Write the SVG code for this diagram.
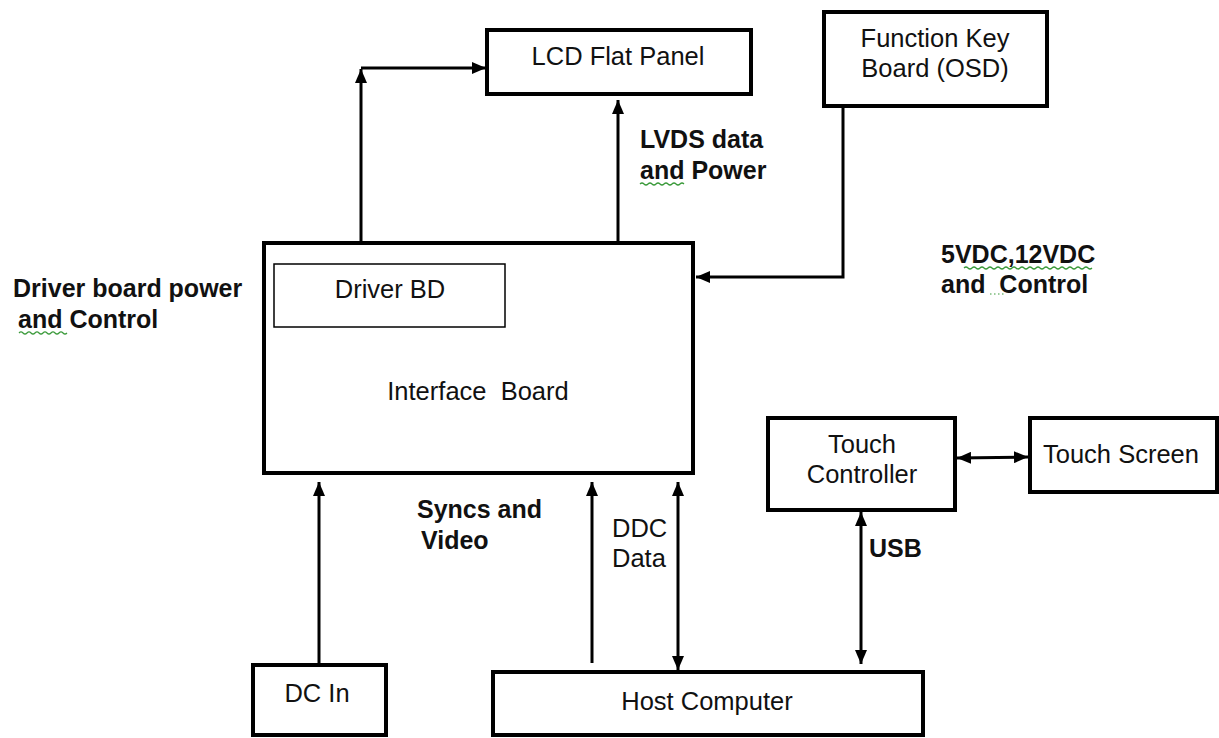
<svg xmlns="http://www.w3.org/2000/svg" width="1219" height="738" viewBox="0 0 1219 738">
<defs>
<style>
.box{fill:#fff;stroke:#000;stroke-width:4}
.inner{fill:#fff;stroke:#000;stroke-width:1.5}
.lbl{font-family:"Liberation Sans",Arial,sans-serif;font-size:25.5px;fill:#111}
.mid{text-anchor:middle}
.b{font-weight:bold;font-size:25px}
.con{fill:none;stroke:#000;stroke-width:3}
.sq{fill:none;stroke:#3a9a3a;stroke-width:1.2}
</style>
<marker id="ah" viewBox="0 0 14 12" refX="14" refY="6" markerWidth="14" markerHeight="12" markerUnits="userSpaceOnUse" orient="auto-start-reverse">
<path d="M0,0 L14,6 L0,12 z" fill="#000"/>
</marker>
</defs>
<rect width="1219" height="738" fill="#fff"/>
<g id="connectors">
<line class="con" x1="361" y1="243" x2="361" y2="69" marker-end="url(#ah)"/>
<line class="con" x1="361" y1="68" x2="486" y2="68" marker-end="url(#ah)"/>
<line class="con" x1="618" y1="243" x2="618" y2="100" marker-end="url(#ah)"/>
<path class="con" d="M843,106 V277 H696" marker-end="url(#ah)"/>
<line class="con" x1="319" y1="665" x2="319" y2="482" marker-end="url(#ah)"/>
<line class="con" x1="592" y1="663" x2="592" y2="482" marker-end="url(#ah)"/>
<line class="con" x1="678" y1="482" x2="678" y2="670" marker-start="url(#ah)" marker-end="url(#ah)"/>
<line class="con" x1="861" y1="512" x2="861" y2="664" marker-start="url(#ah)" marker-end="url(#ah)"/>
<line class="con" x1="957" y1="458" x2="1028" y2="457" marker-start="url(#ah)" marker-end="url(#ah)"/>
</g>
<g id="lcd">
<rect class="box" x="487" y="30" width="264" height="64"/>
<text class="lbl mid" x="618" y="65">LCD Flat Panel</text>
</g>
<g id="function-key">
<rect class="box" x="824" y="12" width="223" height="94"/>
<text class="lbl mid" x="935" y="47">Function Key</text>
<text class="lbl mid" x="935" y="77">Board (OSD)</text>
</g>
<g id="interface">
<rect class="box" x="264" y="243" width="429" height="230"/>
<text class="lbl mid" x="478" y="400" xml:space="preserve">Interface  Board</text>
</g>
<g id="driver-bd">
<rect class="inner" x="274" y="264" width="231" height="63"/>
<text class="lbl mid" x="390" y="298">Driver BD</text>
</g>
<g id="touch-controller">
<rect class="box" x="768" y="418" width="187" height="92"/>
<text class="lbl mid" x="862" y="453">Touch</text>
<text class="lbl mid" x="862" y="483">Controller</text>
</g>
<g id="touch-screen">
<rect class="box" x="1030" y="418" width="187" height="74"/>
<text class="lbl" x="1043" y="463">Touch Screen</text>
</g>
<g id="dc-in">
<rect class="box" x="253" y="665" width="133" height="70"/>
<text class="lbl mid" x="317" y="702">DC In</text>
</g>
<g id="host">
<rect class="box" x="493" y="672" width="430" height="63"/>
<text class="lbl mid" x="707" y="710">Host Computer</text>
</g>
<g id="labels">
<text class="lbl b" x="13" y="297">Driver board power</text>
<text class="lbl b" x="18" y="328">and Control</text>
<text class="lbl b" x="640" y="148">LVDS data</text>
<text class="lbl b" x="640" y="179">and Power</text>
<text class="lbl b" x="941" y="263">5VDC,12VDC</text>
<text class="lbl b" x="941" y="293" xml:space="preserve">and  Control</text>
<text class="lbl b" x="417" y="518">Syncs and</text>
<text class="lbl b" x="421" y="549">Video</text>
<text class="lbl" x="612" y="537">DDC</text>
<text class="lbl" x="612" y="567">Data</text>
<text class="lbl b" x="869" y="557">USB</text>
</g>
<g id="squiggles">
<path class="sq" d="M640,184 q2,-2 4,0 t4,0 t4,0 t4,0 t4,0 t4,0 t4,0 t4,0 t4,0 t4,0 t4,0"/>
<path class="sq" d="M19,333 q2,-2 4,0 t4,0 t4,0 t4,0 t4,0 t4,0 t4,0 t4,0 t4,0 t4,0 t4,0 t4,0"/>
<path class="sq" d="M964,268 q2,-2 4,0 t4,0 t4,0 t4,0 t4,0 t4,0 t4,0 t4,0 t4,0 t4,0 t4,0 t4,0 t4,0 t4,0 t4,0 t4,0 t4,0 t4,0 t4,0 t4,0 t4,0 t4,0 t4,0 t4,0 t4,0 t4,0 t4,0 t4,0 t4,0 t4,0 t4,0 t4,0"/>
<path class="sq" d="M990,294 H1005" stroke-dasharray="1.5 2.5"/>
</g>
</svg>
